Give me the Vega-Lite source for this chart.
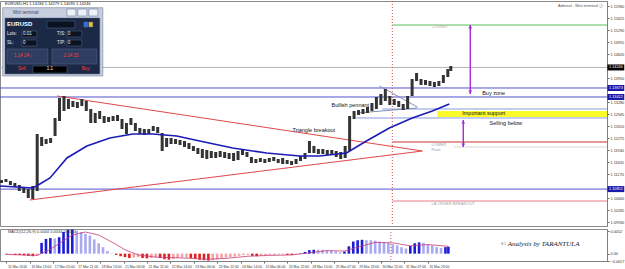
{
"$schema":"https://vega.github.io/schema/vega-lite/v6.json",
"padding":{"left":-4,"top":0,"right":0,"bottom":0},
"background":"white",
"spacing":1,
"config":{"view":{"stroke":"#8a8a8a","strokeWidth":1},"font":"Liberation Sans","axis":{"grid":false}},
"datasets":{
"c":[{"i":0,"lo":1.11022,"hi":1.11106},{"i":3,"lo":1.1105,"hi":1.11134},{"i":6,"lo":1.10966,"hi":1.11078},{"i":9,"lo":1.10911,"hi":1.11022},{"i":12,"lo":1.10799,"hi":1.10966},{"i":15,"lo":1.10743,"hi":1.10911},{"i":18,"lo":1.10604,"hi":1.10855},{"i":21,"lo":1.10576,"hi":1.10939},{"i":24,"lo":1.10799,"hi":1.12389},{"i":27,"lo":1.12055,"hi":1.12306},{"i":30,"lo":1.1211,"hi":1.1225},{"i":33,"lo":1.12138,"hi":1.12278},{"i":36,"lo":1.12334,"hi":1.12836},{"i":39,"lo":1.12752,"hi":1.13394},{"i":42,"lo":1.13031,"hi":1.1345},{"i":45,"lo":1.13087,"hi":1.13366},{"i":48,"lo":1.13143,"hi":1.1331},{"i":51,"lo":1.13115,"hi":1.13282},{"i":54,"lo":1.13171,"hi":1.13366},{"i":57,"lo":1.13031,"hi":1.1331},{"i":60,"lo":1.12696,"hi":1.13087},{"i":63,"lo":1.12696,"hi":1.12975},{"i":66,"lo":1.12808,"hi":1.13031},{"i":69,"lo":1.12696,"hi":1.12891},{"i":72,"lo":1.12724,"hi":1.12864},{"i":75,"lo":1.12752,"hi":1.12891},{"i":78,"lo":1.12752,"hi":1.12919},{"i":81,"lo":1.12529,"hi":1.12808},{"i":84,"lo":1.12389,"hi":1.12696},{"i":87,"lo":1.1264,"hi":1.12836},{"i":90,"lo":1.12473,"hi":1.12696},{"i":93,"lo":1.12389,"hi":1.12557},{"i":96,"lo":1.12361,"hi":1.12529},{"i":99,"lo":1.12389,"hi":1.12529},{"i":102,"lo":1.12473,"hi":1.12613},{"i":105,"lo":1.12417,"hi":1.12585},{"i":108,"lo":1.11915,"hi":1.12417},{"i":111,"lo":1.12027,"hi":1.12278},{"i":114,"lo":1.1211,"hi":1.12278},{"i":117,"lo":1.1211,"hi":1.1225},{"i":120,"lo":1.12082,"hi":1.12222},{"i":123,"lo":1.12027,"hi":1.12194},{"i":126,"lo":1.11971,"hi":1.12138},{"i":129,"lo":1.11915,"hi":1.12055},{"i":132,"lo":1.11831,"hi":1.11999},{"i":135,"lo":1.1172,"hi":1.11971},{"i":138,"lo":1.11692,"hi":1.11943},{"i":141,"lo":1.1172,"hi":1.11915},{"i":144,"lo":1.1172,"hi":1.11887},{"i":147,"lo":1.11748,"hi":1.11915},{"i":150,"lo":1.1172,"hi":1.11887},{"i":153,"lo":1.11692,"hi":1.11859},{"i":156,"lo":1.11636,"hi":1.11859},{"i":159,"lo":1.11664,"hi":1.11915},{"i":162,"lo":1.11803,"hi":1.11971},{"i":165,"lo":1.11748,"hi":1.11887},{"i":168,"lo":1.1158,"hi":1.11748},{"i":171,"lo":1.1158,"hi":1.11692},{"i":174,"lo":1.11608,"hi":1.1172},{"i":177,"lo":1.1158,"hi":1.11692},{"i":180,"lo":1.11608,"hi":1.1172},{"i":183,"lo":1.11636,"hi":1.11748},{"i":186,"lo":1.1158,"hi":1.11692},{"i":189,"lo":1.11552,"hi":1.1172},{"i":192,"lo":1.11552,"hi":1.11664},{"i":195,"lo":1.11524,"hi":1.11636},{"i":198,"lo":1.11552,"hi":1.11692},{"i":201,"lo":1.11636,"hi":1.11776},{"i":204,"lo":1.11692,"hi":1.11859},{"i":207,"lo":1.11859,"hi":1.12194},{"i":210,"lo":1.11859,"hi":1.12055},{"i":213,"lo":1.11831,"hi":1.11971},{"i":216,"lo":1.11831,"hi":1.11971},{"i":219,"lo":1.11803,"hi":1.11943},{"i":222,"lo":1.11803,"hi":1.11943},{"i":225,"lo":1.11748,"hi":1.11915},{"i":228,"lo":1.11692,"hi":1.11887},{"i":231,"lo":1.1172,"hi":1.12055},{"i":234,"lo":1.11915,"hi":1.12891},{"i":237,"lo":1.12808,"hi":1.13031},{"i":240,"lo":1.12919,"hi":1.13059},{"i":243,"lo":1.12947,"hi":1.13087},{"i":246,"lo":1.12975,"hi":1.13143},{"i":249,"lo":1.13031,"hi":1.13254},{"i":252,"lo":1.13087,"hi":1.13422},{"i":255,"lo":1.13198,"hi":1.13505},{"i":258,"lo":1.1331,"hi":1.13645},{"i":261,"lo":1.13198,"hi":1.1345},{"i":264,"lo":1.13198,"hi":1.13366},{"i":267,"lo":1.13143,"hi":1.1331},{"i":270,"lo":1.13059,"hi":1.13226},{"i":273,"lo":1.13087,"hi":1.1345},{"i":276,"lo":1.1345,"hi":1.13924},{"i":279,"lo":1.13868,"hi":1.14091},{"i":282,"lo":1.13756,"hi":1.13924},{"i":285,"lo":1.13756,"hi":1.13896},{"i":288,"lo":1.13729,"hi":1.13868},{"i":291,"lo":1.13701,"hi":1.1384},{"i":294,"lo":1.13729,"hi":1.13868},{"i":297,"lo":1.13812,"hi":1.14035},{"i":300,"lo":1.1398,"hi":1.14203},{"i":302,"lo":1.14147,"hi":1.14286}],
"ma":[{"i":-1,"v":1.10939},{"i":21.1,"v":1.10883},{"i":25.8,"v":1.10994},{"i":32.6,"v":1.11162},{"i":44,"v":1.1172},{"i":57.4,"v":1.12055},{"i":72.8,"v":1.12278},{"i":88.3,"v":1.12389},{"i":101.7,"v":1.12389},{"i":117.8,"v":1.12334},{"i":133.2,"v":1.12194},{"i":155.4,"v":1.11999},{"i":178.2,"v":1.11859},{"i":200.3,"v":1.11776},{"i":213.7,"v":1.11776},{"i":231.9,"v":1.11859},{"i":245.3,"v":1.12194},{"i":260.7,"v":1.12557},{"i":276.1,"v":1.12836},{"i":289.6,"v":1.13031},{"i":301,"v":1.13226}],
"m":[{"i":0,"v":-0.0002,"t":"nd"},{"i":3,"v":-0.0002,"t":"nu"},{"i":6,"v":-0.0003,"t":"nd"},{"i":9,"v":-0.0003,"t":"nd"},{"i":12,"v":-0.0004,"t":"nd"},{"i":15,"v":-0.0005,"t":"nd"},{"i":18,"v":-0.0006,"t":"nd"},{"i":21,"v":-0.0005,"t":"nu"},{"i":24,"v":0.0025,"t":"pu"},{"i":27,"v":0.0034,"t":"pu"},{"i":30,"v":0.0036,"t":"pu"},{"i":33,"v":0.0035,"t":"pd"},{"i":36,"v":0.0038,"t":"pu"},{"i":39,"v":0.005,"t":"pu"},{"i":42,"v":0.0055,"t":"pu"},{"i":45,"v":0.0056,"t":"pu"},{"i":48,"v":0.0053,"t":"pd"},{"i":51,"v":0.005,"t":"pd"},{"i":54,"v":0.0046,"t":"pd"},{"i":57,"v":0.0042,"t":"pd"},{"i":60,"v":0.0033,"t":"pd"},{"i":63,"v":0.0024,"t":"pd"},{"i":66,"v":0.0015,"t":"pd"},{"i":69,"v":0.0006,"t":"pd"},{"i":72,"v":0.0001,"t":"pd"},{"i":75,"v":-0.0003,"t":"nd"},{"i":78,"v":-0.0006,"t":"nd"},{"i":81,"v":-0.0008,"t":"nd"},{"i":84,"v":-0.001,"t":"nd"},{"i":87,"v":-0.0009,"t":"nu"},{"i":90,"v":-0.0008,"t":"nu"},{"i":93,"v":-0.001,"t":"nd"},{"i":96,"v":-0.0011,"t":"nd"},{"i":99,"v":-0.001,"t":"nu"},{"i":102,"v":-0.0009,"t":"nu"},{"i":105,"v":-0.001,"t":"nd"},{"i":108,"v":-0.0013,"t":"nd"},{"i":111,"v":-0.0014,"t":"nd"},{"i":114,"v":-0.0012,"t":"nu"},{"i":117,"v":-0.001,"t":"nu"},{"i":120,"v":-0.0009,"t":"nu"},{"i":123,"v":-0.0009,"t":"nu"},{"i":126,"v":-0.001,"t":"nd"},{"i":129,"v":-0.0012,"t":"nd"},{"i":132,"v":-0.0014,"t":"nd"},{"i":135,"v":-0.0015,"t":"nd"},{"i":138,"v":-0.0016,"t":"nd"},{"i":141,"v":-0.0015,"t":"nu"},{"i":144,"v":-0.0013,"t":"nu"},{"i":147,"v":-0.0011,"t":"nu"},{"i":150,"v":-0.0009,"t":"nu"},{"i":153,"v":-0.0008,"t":"nu"},{"i":156,"v":-0.0007,"t":"nu"},{"i":159,"v":-0.0005,"t":"nu"},{"i":162,"v":-0.0003,"t":"nu"},{"i":165,"v":-0.0003,"t":"nu"},{"i":168,"v":-0.0005,"t":"nd"},{"i":171,"v":-0.0006,"t":"nd"},{"i":174,"v":-0.0005,"t":"nu"},{"i":177,"v":-0.0004,"t":"nu"},{"i":180,"v":-0.0003,"t":"nu"},{"i":183,"v":-0.0003,"t":"nu"},{"i":186,"v":-0.0002,"t":"nu"},{"i":189,"v":-0.0002,"t":"nu"},{"i":192,"v":-0.0003,"t":"nd"},{"i":195,"v":-0.0003,"t":"nd"},{"i":198,"v":-0.0002,"t":"nu"},{"i":201,"v":0.0001,"t":"pu"},{"i":204,"v":0.0004,"t":"pu"},{"i":207,"v":0.0008,"t":"pu"},{"i":210,"v":0.0009,"t":"pu"},{"i":213,"v":0.0009,"t":"pd"},{"i":216,"v":0.0009,"t":"pd"},{"i":219,"v":0.0008,"t":"pd"},{"i":222,"v":0.0007,"t":"pd"},{"i":225,"v":0.0005,"t":"pd"},{"i":228,"v":0.0003,"t":"pd"},{"i":231,"v":0.0005,"t":"pu"},{"i":234,"v":0.0017,"t":"pu"},{"i":237,"v":0.0028,"t":"pu"},{"i":240,"v":0.0031,"t":"pu"},{"i":243,"v":0.0032,"t":"pu"},{"i":246,"v":0.0031,"t":"pd"},{"i":249,"v":0.0031,"t":"pd"},{"i":252,"v":0.003,"t":"pd"},{"i":255,"v":0.0028,"t":"pd"},{"i":258,"v":0.0027,"t":"pd"},{"i":261,"v":0.0025,"t":"pd"},{"i":264,"v":0.0022,"t":"pd"},{"i":267,"v":0.0019,"t":"pd"},{"i":270,"v":0.0015,"t":"pd"},{"i":273,"v":0.0012,"t":"pd"},{"i":276,"v":0.0018,"t":"pu"},{"i":279,"v":0.0024,"t":"pu"},{"i":282,"v":0.0026,"t":"pu"},{"i":285,"v":0.0025,"t":"pd"},{"i":288,"v":0.0022,"t":"pd"},{"i":291,"v":0.0019,"t":"pd"},{"i":294,"v":0.0015,"t":"pd"},{"i":297,"v":0.0013,"t":"pd"},{"i":300,"v":0.0015,"t":"pu"},{"i":302,"v":0.0016,"t":"pu"}],
"sig":[{"i":0,"v":-0.0002},{"i":21,"v":-0.0004},{"i":30,"v":0.001},{"i":39,"v":0.003},{"i":45,"v":0.0043},{"i":54,"v":0.005},{"i":63,"v":0.0043},{"i":72,"v":0.0027},{"i":81,"v":0.0009},{"i":90,"v":-0.0003},{"i":102,"v":-0.0008},{"i":120,"v":-0.001},{"i":138,"v":-0.0013},{"i":150,"v":-0.0011},{"i":165,"v":-0.0006},{"i":180,"v":-0.0004},{"i":195,"v":-0.0003},{"i":207,"v":0.0002},{"i":219,"v":0.0007},{"i":231,"v":0.0006},{"i":240,"v":0.0015},{"i":252,"v":0.0026},{"i":264,"v":0.0025},{"i":276,"v":0.0018},{"i":288,"v":0.0021},{"i":302,"v":0.0017}],
"lv":[{"k":"target","p":1.1543,"a":262.7,"b":407},{"k":"bid","p":1.14246,"a":-1,"b":407},{"k":"blue","p":1.13673,"a":-1,"b":407},{"k":"blue","p":1.13422,"a":-1,"b":407},{"k":"blue","p":1.10852,"a":-1,"b":407},{"k":"light","p":1.13087,"a":256,"b":407},{"k":"light","p":1.12836,"a":238.6,"b":407},{"k":"red","p":1.12166,"a":262.7,"b":407},{"k":"pivot","p":1.12027,"a":304,"b":407},{"k":"pink","p":1.1052,"a":262.7,"b":407}],
"vline":[{"i":262.7}],
"zone":[{"a":292.9,"b":407,"p1":1.13031,"p2":1.12864}],
"seg":[{"k":"tri","a":37.25,"pa":1.1345,"b":282.9,"pb":1.11915},{"k":"tri","a":19.1,"pa":1.10548,"b":282.9,"pb":1.11915},{"k":"pen","a":254,"pa":1.13729,"b":279.5,"pb":1.13143},{"k":"pen","a":239.2,"pa":1.12975,"b":279.5,"pb":1.13115}],
"arr":[{"i":315.1,"p1":1.1543,"p2":1.13505},{"i":310.4,"p1":1.1278,"p2":1.12027}],
"heads":[{"i":315.1,"p":1.15375,"d":"up"},{"i":315.1,"p":1.13561,"d":"down"},{"i":310.4,"p":1.12724,"d":"up"},{"i":310.4,"p":1.12082,"d":"down"}],
"notes":[{"t":"Triangle breakout","i":195.6,"p":1.12501},{"t":"Bullish pennant","i":221.8,"p":1.13198},{"t":"Buy zone","i":323.1,"p":1.13533},{"t":"Important support","i":309.7,"p":1.12975},{"t":"Selling below","i":328.1,"p":1.12696}],
"gnotes":[{"t":"+1 DIGIT","i":289,"p":1.15375},{"t":"LOWER","i":289,"p":1.12082},{"t":"Pivot","i":289,"p":1.11943},{"t":"LA ORDER BREAKOUT","i":289,"p":1.10436}],
"hdr":[{"t":"EURUSD,H1  1.14184 1.14279 1.14093 1.14246","i":2.36,"p":1.16016}],
"adm":[{"t":"Admiral - Mini terminal ⓘ","i":404.3,"p":1.1596}],
"boxes":[{"k":"bid","p":1.14246,"t":"1.14246"},{"k":"blue","p":1.13673,"t":"1.13673"},{"k":"blue","p":1.13422,"t":"1.13422"},{"k":"blue","p":1.10852,"t":"1.10852"}],
"wr":[{"k":"frame","a":0.81,"b":68.1,"p1":1.15913,"p2":1.14008},{"k":"panel","a":2.36,"b":66.1,"p1":1.15626,"p2":1.14063},{"k":"namebox","a":30.5,"b":49.3,"p1":1.15542,"p2":1.15347},{"k":"icon1","a":55.4,"b":58.1,"p1":1.15514,"p2":1.15375},{"k":"icon2","a":58.7,"b":61.4,"p1":1.15514,"p2":1.15375},{"k":"input","a":13.8,"b":23.8,"p1":1.15263,"p2":1.15096},{"k":"input","a":13.8,"b":23.8,"p1":1.15012,"p2":1.14845},{"k":"input","a":44,"b":54,"p1":1.15263,"p2":1.15096},{"k":"input","a":44,"b":54,"p1":1.15012,"p2":1.14845},{"k":"button","a":3.7,"b":31.2,"p1":1.14761,"p2":1.14342},{"k":"button","a":33.9,"b":64.1,"p1":1.14761,"p2":1.14342},{"k":"pricebox","a":21.1,"b":44,"p1":1.14287,"p2":1.14091},{"k":"tbtn","a":44,"b":50,"p1":1.15877,"p2":1.15682},{"k":"tbtn","a":51.3,"b":57.4,"p1":1.15877,"p2":1.15682},{"k":"tbtn","a":58.7,"b":64.8,"p1":1.15877,"p2":1.15682}],
"wt":[{"t":"Mini terminal","i":7.7,"p":1.15774,"k":"title"},{"t":"Lots:","i":3.7,"p":1.15179,"k":"white"},{"t":"0.01","i":14.4,"p":1.15179,"k":"white"},{"t":"SL:","i":3.7,"p":1.14928,"k":"white"},{"t":"0","i":14.4,"p":1.14928,"k":"white"},{"t":"T/S:","i":37.3,"p":1.15179,"k":"white"},{"t":"0","i":44.6,"p":1.15179,"k":"white"},{"t":"T/P:","i":37.3,"p":1.14928,"k":"white"},{"t":"0","i":44.6,"p":1.14928,"k":"white"},{"t":"1.1","i":30.5,"p":1.14203,"k":"white"},{"t":"1.14 24 ↓","i":8.4,"p":1.14566,"k":"red"},{"t":"↓ 1.14 25","i":39.3,"p":1.14566,"k":"red"},{"t":"Sell","i":11.1,"p":1.14203,"k":"red"},{"t":"Buy","i":54,"p":1.14203,"k":"red"}],
"wname":[{"t":"EURUSD","i":3.7,"p":1.15458}],
"mtxt":[{"t":"MACD(12,26,9) 0.0044 0.0034 0.0010","i":1,"v":0.00495}],
"copy":[{"t":"© Analysis by TARANTULA","i":364.7,"v":0.0022}]
},
"vconcat":[
{"width":607,"height":225,
"resolve":{"scale":{"color":"independent","shape":"independent"}},
"encoding":{
"x":{"type":"quantitative","scale":{"domain":[-1,407],"nice":false,"zero":false},"axis":null,"title":null},
"y":{"type":"quantitative","scale":{"domain":[1.098225,1.161],"nice":false,"zero":false},"title":null,"axis":{"orient":"right","values":[1.1596,1.15625,1.1529,1.14955,1.1462,1.1395,1.1328,1.12945,1.1261,1.12275,1.1194,1.11605,1.1127,1.106,1.10265,1.0993],"format":".5f","labelFontSize":3.8,"labelColor":"#333","tickSize":2,"labelPadding":1,"tickColor":"#666","domainColor":"#808080","labelFlush":false,"labelOverlap":false,"labelBound":false}}
},
"layer":[
{"data":{"name":"zone"},"mark":{"type":"rect","color":"#fbfb2a"},"encoding":{"x":{"field":"a"},"x2":{"field":"b"},"y":{"field":"p1"},"y2":{"field":"p2"}}},
{"data":{"name":"lv"},"mark":{"type":"rule","strokeWidth":1},"encoding":{"x":{"field":"a"},"x2":{"field":"b"},"y":{"field":"p"},"color":{"field":"k","type":"nominal","legend":null,"scale":{"domain":["target","bid","blue","light","red","pink","pivot"],"range":["#5cc05c","#b4b4b4","#5353d1","#8a9be0","#c83232","#e8788a","#d8d8d8"]}}}},
{"data":{"name":"vline"},"mark":{"type":"rule","color":"#d05050","strokeDash":[1,2],"strokeWidth":1},"encoding":{"x":{"field":"i"},"y":null}},
{"data":{"name":"seg"},"mark":{"type":"rule","strokeWidth":1},"encoding":{"x":{"field":"a"},"x2":{"field":"b"},"y":{"field":"pa"},"y2":{"field":"pb"},"color":{"field":"k","type":"nominal","legend":null,"scale":{"domain":["tri","pen"],"range":["#e04848","#8090b8"]}}}},
{"data":{"name":"c"},"mark":{"type":"rule","color":"#333333","strokeWidth":3},"encoding":{"x":{"field":"i"},"y":{"field":"lo"},"y2":{"field":"hi"}}},
{"data":{"name":"ma"},"mark":{"type":"line","color":"#1c1cb4","strokeWidth":1.6},"encoding":{"x":{"field":"i"},"y":{"field":"v"}}},
{"data":{"name":"arr"},"mark":{"type":"rule","color":"#a52ad6","strokeWidth":1.4},"encoding":{"x":{"field":"i"},"y":{"field":"p1"},"y2":{"field":"p2"}}},
{"data":{"name":"heads"},"mark":{"type":"point","filled":true,"size":14,"color":"#a52ad6","opacity":1},"encoding":{"x":{"field":"i"},"y":{"field":"p"},"shape":{"field":"d","type":"nominal","legend":null,"scale":{"domain":["up","down"],"range":["triangle-up","triangle-down"]}}}},
{"data":{"name":"notes"},"mark":{"type":"text","align":"left","baseline":"middle","fontSize":5.5,"color":"#111"},"encoding":{"x":{"field":"i"},"y":{"field":"p"},"text":{"field":"t"}}},
{"data":{"name":"gnotes"},"mark":{"type":"text","align":"left","baseline":"middle","fontSize":4,"color":"#a0a0a0"},"encoding":{"x":{"field":"i"},"y":{"field":"p"},"text":{"field":"t"}}},
{"data":{"name":"hdr"},"mark":{"type":"text","align":"left","baseline":"middle","fontSize":4,"color":"#111"},"encoding":{"x":{"field":"i"},"y":{"field":"p"},"text":{"field":"t"}}},
{"data":{"name":"adm"},"mark":{"type":"text","align":"right","baseline":"middle","fontSize":4,"color":"#555"},"encoding":{"x":{"field":"i"},"y":{"field":"p"},"text":{"field":"t"}}},
{"data":{"name":"wr"},"mark":{"type":"rect","stroke":"#5a6a8a","strokeWidth":0.5},"encoding":{"x":{"field":"a"},"x2":{"field":"b"},"y":{"field":"p1"},"y2":{"field":"p2"},"color":{"field":"k","type":"nominal","legend":null,"scale":{"domain":["frame","panel","namebox","icon1","icon2","input","button","pricebox","tbtn"],"range":["#c7cfdf","#1b2946","#0b1322","#2f6fe8","#f2c330","#0b1322","#2d3e62","#000000","#eef1f7"]}}}},
{"data":{"name":"wt"},"mark":{"type":"text","align":"left","baseline":"middle","fontSize":4.5},"encoding":{"x":{"field":"i"},"y":{"field":"p"},"text":{"field":"t"},"color":{"field":"k","type":"nominal","legend":null,"scale":{"domain":["title","white","red"],"range":["#3a4766","#e8ecf5","#ff3b3b"]}}}},
{"data":{"name":"wname"},"mark":{"type":"text","align":"left","baseline":"middle","fontSize":6,"fontWeight":"bold","color":"#ffffff"},"encoding":{"x":{"field":"i"},"y":{"field":"p"},"text":{"field":"t"}}},
{"data":{"name":"boxes"},"mark":{"type":"rule","strokeWidth":6},"encoding":{"x":{"datum":407.3},"x2":{"datum":418.6},"y":{"field":"p"},"color":{"field":"k","type":"nominal","legend":null,"scale":{"domain":["bid","blue"],"range":["#000000","#1a1aa8"]}}}},
{"data":{"name":"boxes"},"mark":{"type":"text","align":"center","baseline":"middle","fontSize":3.8,"color":"#ffffff"},"encoding":{"x":{"datum":413},"y":{"field":"p"},"text":{"field":"t"}}}
]},
{"width":607,"height":32,
"encoding":{
"x":{"type":"quantitative","scale":{"domain":[-1,407],"nice":false,"zero":false},"title":null,"axis":{"values":[0,16,32,48,64,80,96,112,128,144,160,176,192,208,224,240,256,272,288],"labelExpr":"['15 Mar 2016','16 Mar 13:00','17 Mar 05:00','17 Mar 21:00','18 Mar 13:00','21 Mar 06:00','21 Mar 22:00','22 Mar 14:00','23 Mar 06:00','23 Mar 22:00','24 Mar 14:00','25 Mar 06:00','25 Mar 22:00','28 Mar 15:00','29 Mar 07:00','29 Mar 23:00','30 Mar 15:00','31 Mar 07:00','31 Mar 23:00'][round(datum.value/16)]","labelAlign":"left","labelBaseline":"top","labelFontSize":3.4,"labelColor":"#333","labelPadding":1,"labelOffset":1,"tickSize":2,"tickColor":"#666","domainColor":"#808080","labelFlush":false,"labelOverlap":false,"labelBound":false}},
"y":{"type":"quantitative","scale":{"domain":[-0.0017,0.0057],"nice":false,"zero":false},"title":null,"axis":{"orient":"right","values":[0.0052,0,-0.0017],"labelExpr":"datum.value == 0 ? '0.00' : format(datum.value, '.4f')","labelFontSize":3.8,"labelColor":"#333","tickSize":2,"labelPadding":1,"tickColor":"#666","domainColor":"#808080","labelFlush":false,"labelOverlap":false,"labelBound":false}}
},
"layer":[
{"data":{"name":"m"},"mark":{"type":"bar","size":2.6},"encoding":{"x":{"field":"i"},"y":{"field":"v"},"color":{"field":"t","type":"nominal","legend":null,"scale":{"domain":["pu","pd","nd","nu"],"range":["#1b1bd8","#a9a9f2","#e21e1e","#f3a3a3"]}}}},
{"data":{"name":"sig"},"mark":{"type":"line","color":"#c83c78","strokeWidth":0.8},"encoding":{"x":{"field":"i"},"y":{"field":"v"}}},
{"data":{"name":"vline"},"mark":{"type":"rule","color":"#d05050","strokeDash":[1,2],"strokeWidth":1},"encoding":{"x":{"field":"i"},"y":null}},
{"data":{"name":"mtxt"},"mark":{"type":"text","align":"left","baseline":"middle","fontSize":4,"color":"#333"},"encoding":{"x":{"field":"i"},"y":{"field":"v"},"text":{"field":"t"}}},
{"data":{"name":"copy"},"mark":{"type":"text","align":"center","baseline":"middle","fontSize":7,"fontStyle":"italic","font":"Liberation Serif","color":"#222"},"encoding":{"x":{"field":"i"},"y":{"field":"v"},"text":{"field":"t"}}}
]}
],
"resolve":{"scale":{"color":"independent","x":"independent","y":"independent"}}
}
